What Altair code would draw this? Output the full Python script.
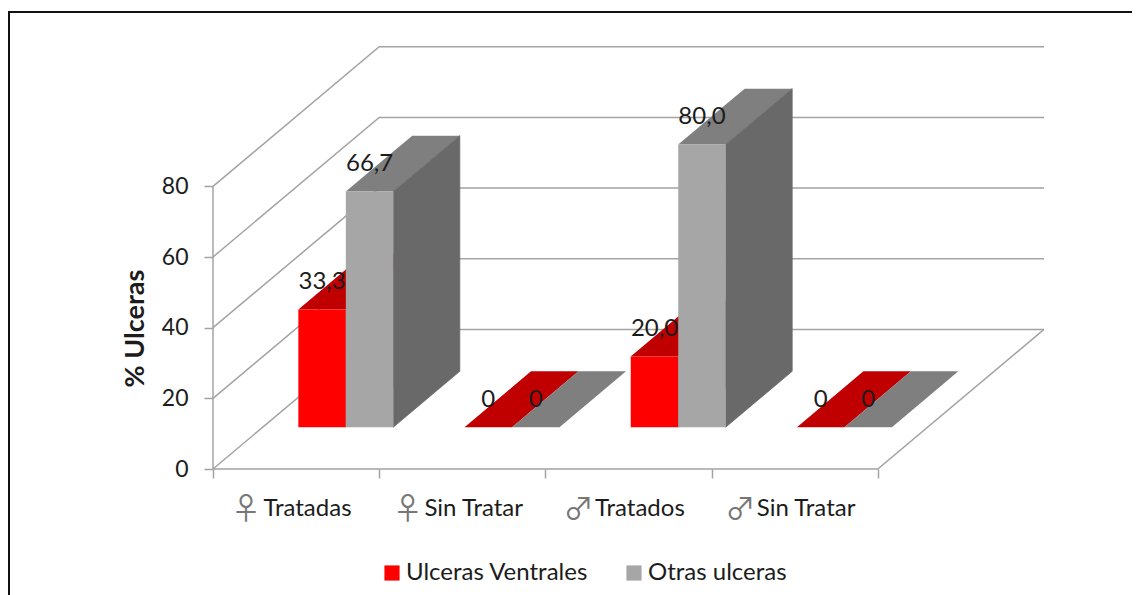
import json
import altair as alt
import pandas as pd

SYMBOLS = ["♀", "♀", "♂", "♂"]
NAMES = ["Tratadas", "Sin Tratar", "Tratados", "Sin Tratar"]
SERIES = ["Ulceras Ventrales", "Otras ulceras"]
VENTRALES = [33.3, 0, 20.0, 0]
OTRAS = [66.7, 0, 80.0, 0]
LABELS_VENTRALES = ["33,3", "0", "20,0", "0"]
LABELS_OTRAS = ["66,7", "0", "80,0", "0"]
Y_TICKS = [0, 20, 40, 60, 80]

FRONT_COLORS = ["#FF0000", "#A6A6A6"]
TOP_COLORS = ["#C00000", "#7F7F7F"]
SIDE_COLOR = "#696969"
LINE = "#A3A3A3"
INK = "#1C1C1C"
FONT = "Lato"

# oblique projection: walking the whole depth of the box moves a point by
# one category to the right and this many value units upward
DEPTH_X = 1.0
DEPTH_Y = 39.5
GAP = 0.2135
BAR_W = 0.2857
T0, T1 = 0.3, 0.7
PX_PER_CAT = 166.2

fronts, labels, tops, sides = [], [], [], []
for s, (name, vals, texts) in enumerate(zip(SERIES, [VENTRALES, OTRAS], [LABELS_VENTRALES, LABELS_OTRAS])):
    for c, (v, t) in enumerate(zip(vals, texts)):
        x0 = c + GAP + s * BAR_W + T0 * DEPTH_X
        x1 = x0 + BAR_W
        y0 = T0 * DEPTH_Y
        top = v + y0
        dx = (T1 - T0) * DEPTH_X
        dy = (T1 - T0) * DEPTH_Y
        fronts.append(dict(series=name, x=x0, x2=x1, y=y0, y2=top))
        labels.append(dict(x=(x0 + x1) / 2, y=top, text=t))
        fid = f"{s}-{c}"
        # top face: parallelogram
        tops += [
            dict(s=s, f=fid, x=x0, lo=top, hi=top),
            dict(s=s, f=fid, x=x1, lo=top, hi=top + dy * BAR_W / dx),
            dict(s=s, f=fid, x=x0 + dx, lo=top + dy * (dx - BAR_W) / dx, hi=top + dy),
            dict(s=s, f=fid, x=x1 + dx, lo=top + dy, hi=top + dy),
        ]
        # right side face
        if v > 0:
            sides += [
                dict(s=s, f=fid, x=x1, lo=y0, hi=top),
                dict(s=s, f=fid, x=x1 + dx, lo=y0 + dy, hi=top + dy),
            ]

grid = []
for v in Y_TICKS:
    grid += [dict(g=v, o=0, x=0, y=v), dict(g=v, o=1, x=DEPTH_X, y=v + DEPTH_Y), dict(g=v, o=2, x=5, y=v + DEPTH_Y)]
n = len(NAMES)
grid += [dict(g="floor", o=0, x=0, y=0), dict(g="floor", o=1, x=n, y=0), dict(g="floor", o=2, x=n + DEPTH_X, y=DEPTH_Y)]
grid += [dict(g="wall", o=0, x=0, y=0), dict(g="wall", o=1, x=0, y=Y_TICKS[-1])]

xs = alt.Scale(domain=[0, 5], nice=False, zero=False)
ys = alt.Scale(domain=[0, 120], nice=False, zero=False)
xaxis = alt.Axis(values=list(range(n + 1)), domain=False, grid=False, tickColor=LINE, tickWidth=1.5, tickSize=9,
                 labelOffset=94, labelPadding=18, labelFontSize=24, labelFont=FONT, labelColor=INK,
                 labelOverlap=False, labelFlush=False, labelBound=False, labelAngle=0,
                 labelExpr=json.dumps(NAMES, ensure_ascii=False) + "[datum.value] || ''")
yaxis = alt.Axis(values=Y_TICKS, domain=False, grid=False, tickColor=LINE, tickWidth=1.5, tickSize=9,
                 labelPadding=16, labelFontSize=23, labelFont=FONT, labelColor=INK, format="d",
                 title="% Ulceras", titleFont=FONT, titleFontSize=27, titleFontWeight="bold", titleColor=INK,
                 titleX=-64, titleY=283, titleAnchor="middle")
X = alt.X("x:Q", scale=xs, axis=xaxis, title=None)


def Y(field):
    return alt.Y(field, scale=ys, axis=yaxis, title=None)


g = (alt.Chart(pd.DataFrame(grid)).mark_line(color=LINE, strokeWidth=1.5, clip=False)
     .encode(x=X, y=Y("y:Q"), detail="g:N", order="o:Q"))


def faces(rows, color, stroke=0):
    return (alt.Chart(pd.DataFrame(rows)).mark_area(color=color, opacity=1, line=False, stroke=color, strokeWidth=stroke)
            .encode(x=X, y=Y("lo:Q"), y2="hi:Q", detail="f:N"))


layers = [g]
for s in range(2):
    layers.append(faces([r for r in tops if r["s"] == s], TOP_COLORS[s]))
    layers.append(faces([r for r in sides if r["s"] == s], SIDE_COLOR, 0.8))
    front = [r for r in fronts if r["series"] == SERIES[s]]
    layers.append(alt.Chart(pd.DataFrame(front)).mark_rect()
                  .encode(x=X, x2="x2:Q", y=Y("y:Q"), y2="y2:Q",
                          color=alt.Color("series:N", scale=alt.Scale(domain=SERIES, range=FRONT_COLORS),
                                          legend=alt.Legend(orient="none", legendX=167, legendY=516, direction="horizontal",
                                                            title=None, symbolType="square", symbolSize=230,
                                                            symbolStrokeWidth=0, labelFont=FONT, labelFontSize=24,
                                                            labelLimit=400, labelColor=INK, columnPadding=33,
                                                            labelOffset=2, padding=0))))

text = (alt.Chart(pd.DataFrame(labels)).mark_text(font=FONT, fontSize=24, color=INK, baseline="alphabetic", dy=-20)
        .encode(x=X, y=Y("y:Q"), text="text:N"))
layers.append(text)

# gender signs beside the category names, larger and lighter than the names
sym_rows = [dict(x=c + 0.5 + (11 - 43 - 2.25 * len(nm)) / PX_PER_CAT, text=sy)
            for c, (sy, nm) in enumerate(zip(SYMBOLS, NAMES))]
layers.append(alt.Chart(pd.DataFrame(sym_rows))
              .mark_text(font="Noto Sans CJK JP", fontSize=30, color="#777777", baseline="middle", clip=False)
              .encode(x=X, y=alt.value(465), text="text:N"))

frame_top = alt.Chart(pd.DataFrame({"a": [0]})).mark_rule(color="#111111", strokeWidth=2).encode(
    x=alt.value(-205), x2=alt.value(919), y=alt.value(-33))
frame_left = alt.Chart(pd.DataFrame({"a": [0]})).mark_rule(color="#111111", strokeWidth=2).encode(
    x=alt.value(-204), y=alt.value(-33), y2=alt.value(550))
layers += [frame_top, frame_left]

chart = (alt.layer(*layers)
         .resolve_scale(x="shared", y="shared")
         .properties(width=831, height=424, background="white",
                     padding={"left": 205, "top": 37, "right": 88, "bottom": 126},
                     autosize=alt.AutoSizeParams(type="none"))
         .configure_view(stroke=None))
chart.save("out.html", embed_options={"renderer": "svg", "actions": False})
